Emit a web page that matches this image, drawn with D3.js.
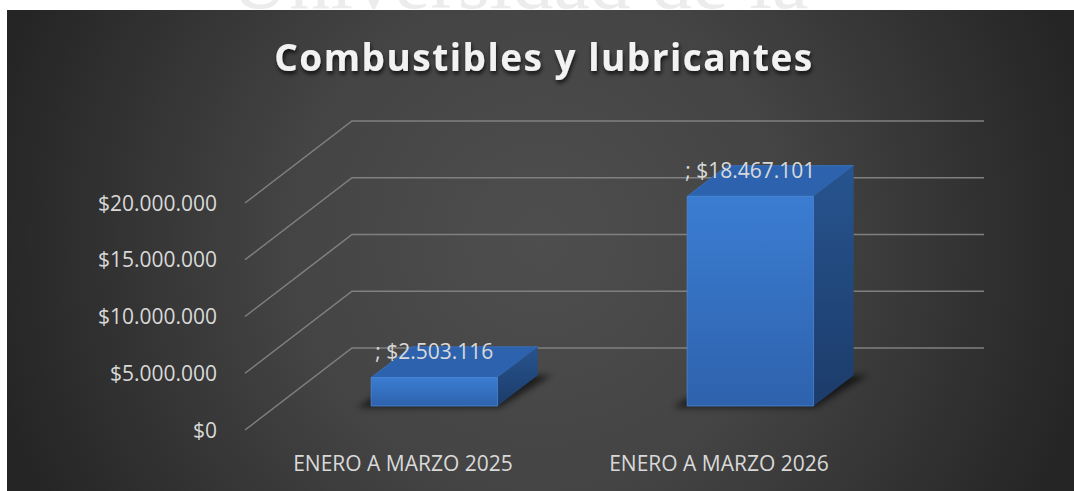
<!DOCTYPE html>
<html>
<head>
<meta charset="utf-8">
<script src="https://cdn.jsdelivr.net/npm/d3@7"></script>
<style>
html, body { margin: 0; padding: 0; background: #fff; overflow: hidden; }
</style>
</head>
<body>
<script>
// data
var categories = ["ENERO A MARZO 2025", "ENERO A MARZO 2026"];
var values = [2503116, 18467101];
var valueLabels = ["; $2.503.116", "; $18.467.101"];
var yTicks = [0, 5000000, 10000000, 15000000, 20000000];
var yTickLabels = ["$0", "$5.000.000", "$10.000.000", "$15.000.000", "$20.000.000"];
var title = "Combustibles y lubricantes";

var width = 1074, height = 491;

// 3d frame (oblique projection)
var floorLeft = 245, floorRight = 877, floorFront = 430;
var depthX = 107, depthY = -82;
var barT0 = 0.293, barT1 = 0.668;

var y = d3.scaleLinear().domain([0, 20000000]).range([0, 227]);
var x = d3.scaleBand().domain(categories).range([floorLeft, floorRight]);
var barW = x.bandwidth() / 2.5;

function proj(px, t, v) {
    return [px + t * depthX, floorFront + t * depthY - y(v)];
}

var svg = d3.select("body").append("svg")
    .attr("width", width)
    .attr("height", height);

var defs = svg.append("defs");

var bg = defs.append("radialGradient")
    .attr("id", "bg")
    .attr("gradientUnits", "userSpaceOnUse")
    .attr("cx", 540).attr("cy", 240).attr("r", 560);
bg.append("stop").attr("offset", "0").attr("stop-color", "#4e4e4e");
bg.append("stop").attr("offset", "0.45").attr("stop-color", "#444444");
bg.append("stop").attr("offset", "1").attr("stop-color", "#252525");

var front = defs.append("linearGradient").attr("id", "front")
    .attr("x1", 0).attr("y1", 0).attr("x2", 0).attr("y2", 1);
front.append("stop").attr("offset", "0").attr("stop-color", "#3b7dd2");
front.append("stop").attr("offset", "1").attr("stop-color", "#2e62ad");

var side = defs.append("linearGradient").attr("id", "side")
    .attr("x1", 0).attr("y1", 0).attr("x2", 0).attr("y2", 1);
side.append("stop").attr("offset", "0").attr("stop-color", "#27548f");
side.append("stop").attr("offset", "1").attr("stop-color", "#1c3c6a");

var shadow = defs.append("filter").attr("id", "tshadow")
    .attr("x", "-10%").attr("y", "-30%").attr("width", "120%").attr("height", "160%");
shadow.append("feDropShadow")
    .attr("dx", 1).attr("dy", 3).attr("stdDeviation", 2)
    .attr("flood-color", "#000").attr("flood-opacity", 0.75);

var blur = defs.append("filter").attr("id", "blur")
    .attr("x", "-20%").attr("y", "-50%").attr("width", "140%").attr("height", "200%");
blur.append("feGaussianBlur").attr("stdDeviation", 3);

// watermark behind the chart (cut off at the top, as in the source)
svg.append("text")
    .attr("x", 230)
    .attr("y", 8)
    .style("font-family", "'Liberation Serif', 'DejaVu Serif', serif")
    .style("font-size", "82px")
    .style("fill", "#ececec")
    .text("Universidad de la");

// chart area
svg.append("rect")
    .attr("x", 7).attr("y", 10)
    .attr("width", width - 7).attr("height", height - 10)
    .attr("fill", "url(#bg)");

// gridlines: side wall + back wall
var line = d3.line();
svg.append("g").selectAll("path")
    .data(yTicks)
    .enter()
    .append("path")
    .attr("d", function(d) {
        return line([proj(floorLeft, 0, d), proj(floorLeft, 1, d), proj(floorRight, 1, d)]);
    })
    .attr("fill", "none")
    .attr("stroke", "#808080")
    .attr("stroke-width", 1.5);

// y labels
svg.append("g").selectAll("text")
    .data(yTicks)
    .enter()
    .append("text")
    .attr("x", floorLeft - 28)
    .attr("y", function(d) { return proj(floorLeft, 0, d)[1]; })
    .attr("dy", "0.36em")
    .attr("text-anchor", "end")
    .style("font-family", "'Open Sans', sans-serif")
    .style("font-size", "21px")
    .style("fill", "#d9d9d9")
    .text(function(d, i) { return yTickLabels[i]; });

// x labels
svg.append("g").selectAll("text")
    .data(categories)
    .enter()
    .append("text")
    .attr("x", function(d) { return x(d) + x.bandwidth() / 2; })
    .attr("y", 463)
    .attr("dy", "0.36em")
    .attr("text-anchor", "middle")
    .style("font-family", "'Open Sans', sans-serif")
    .style("font-size", "21px")
    .style("fill", "#d9d9d9")
    .text(function(d) { return d; });

// bars
var bars = svg.append("g").selectAll("g")
    .data(values)
    .enter()
    .append("g");

function x0(i) { return x(categories[i]) + (x.bandwidth() - barW) / 2; }
function x1(i) { return x0(i) + barW; }

bars.append("path")
    .attr("d", function(d, i) {
        return line([proj(x0(i) - 12, barT0 - 0.02, 0), proj(x1(i) + 4, barT0 - 0.02, 0),
            proj(x1(i) + 14, barT1, 0), proj(x0(i) - 4, barT1, 0)]) + "Z";
    })
    .attr("fill", "#000")
    .attr("opacity", 0.6)
    .attr("filter", "url(#blur)");

bars.append("path")
    .attr("d", function(d, i) {
        return line([proj(x0(i), barT0, d), proj(x1(i), barT0, d),
            proj(x1(i), barT1, d), proj(x0(i), barT1, d)]) + "Z";
    })
    .attr("fill", "#2d63ae")
    .attr("stroke", "#3a74c4")
    .attr("stroke-width", 0.8);

bars.append("path")
    .attr("d", function(d, i) {
        return line([proj(x1(i), barT0, d), proj(x1(i), barT1, d),
            proj(x1(i), barT1, 0), proj(x1(i), barT0, 0)]) + "Z";
    })
    .attr("fill", "url(#side)");

bars.append("path")
    .attr("d", function(d, i) {
        return line([proj(x0(i), barT0, d), proj(x1(i), barT0, d),
            proj(x1(i), barT0, 0), proj(x0(i), barT0, 0)]) + "Z";
    })
    .attr("fill", "url(#front)")
    .attr("stroke", "#4a88d8")
    .attr("stroke-width", 0.8);

// data labels, centred on the front face
bars.append("text")
    .attr("x", function(d, i) { return (proj(x0(i), barT0, d)[0] + proj(x1(i), barT0, d)[0]) / 2; })
    .attr("y", function(d) { return proj(0, barT0, d)[1] - 26; })
    .attr("dy", "0.36em")
    .attr("text-anchor", "middle")
    .style("font-family", "'Open Sans', sans-serif")
    .style("font-size", "21px")
    .style("fill", "#d9d9d9")
    .text(function(d, i) { return valueLabels[i]; });

// title
var t = svg.append("text")
    .attr("x", 544)
    .attr("y", 71)
    .attr("text-anchor", "middle")
    .attr("filter", "url(#tshadow)")
    .style("font-family", "'Open Sans', sans-serif")
    .style("font-weight", "bold")
    .style("font-size", "37px")
    .style("fill", "#f2f2f2")
    .text(title);
var w = t.node().getComputedTextLength();
t.style("letter-spacing", ((538 - w) / (title.length - 1)) + "px");
</script>
</body>
</html>
